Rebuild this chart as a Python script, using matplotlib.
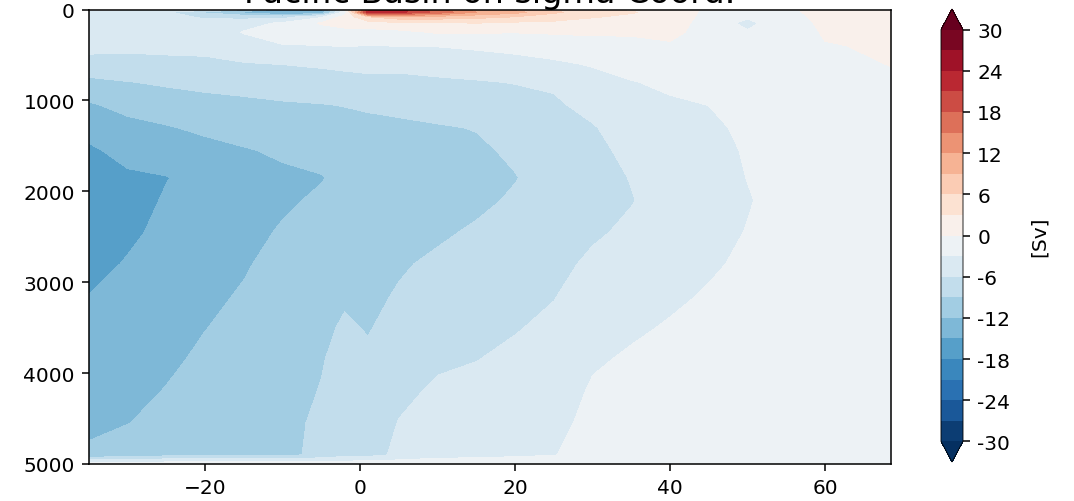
import numpy as np
import matplotlib
matplotlib.use("Agg")
import matplotlib.pyplot as plt
from matplotlib.ticker import FixedLocator, FixedFormatter

# Meridional overturning streamfunction [Sv], Pacific basin
latitude = [-35, -30, -25, -20, -15, -10, -5, -2, 1, 5, 10, 15, 20,
            25, 30, 35, 40, 45, 50, 55, 60, 68.5]
depth = [0, 30, 80, 150, 250, 400, 600, 800, 1050, 1300, 1550, 1850,
         2100, 2450, 2800, 3150, 3500, 3850, 4200, 4550, 4900, 5000]

# one profile (top to bottom, on `depth`) per latitude
psi_profiles = [
    [-2.5, -4.0, -4.5, -4.8, -5.2, -5.5, -6.6, -9.9, -12.3, -13.9, -15.5, -16.8,
     -17.0, -16.8, -16.0, -14.95, -14.4, -13.8, -13.1, -12.5, -11.6, -1.5],   # -35
    [-2.8, -4.2, -4.6, -5.0, -5.3, -5.6, -6.6, -9.1, -11.2, -12.8, -14.0, -15.5,
     -16.2, -15.6, -14.75, -14.2, -13.7, -13.1, -12.6, -12.05, -10.8, -1.2],  # -30
    [-3.5, -5.5, -5.0, -5.2, -5.4, -5.7, -6.3, -8.6, -10.5, -12.2, -13.5, -15.1,
     -14.7, -14.2, -13.7, -13.3, -12.9, -12.4, -11.9, -11.3, -10.0, -1.0],    # -25
    [-4.5, -9.5, -6.5, -5.0, -5.2, -5.6, -6.3, -8.2, -10.0, -11.5, -12.8, -14.0,
     -13.7, -13.3, -12.9, -12.45, -12.05, -11.6, -11.2, -10.7, -9.8, -1.0],   # -20
    [-9.0, -13.0, -7.0, -4.2, -2.8, -4.6, -6.15, -8.0, -9.6, -10.9, -12.2, -13.0,
     -12.9, -12.6, -12.2, -11.8, -11.4, -11.0, -10.6, -10.1, -9.7, -1.0],     # -15
    [-13.0, -16.5, -7.5, -2.5, -2.2, -3.1, -5.95, -7.6, -9.3, -10.4, -11.6, -12.5,
     -12.3, -11.8, -11.3, -10.9, -10.5, -10.1, -9.8, -9.6, -9.6, -1.0],       # -10
    [-12.0, -15.5, -3.5, 0.3, -1.5, -3.05, -5.6, -7.3, -9.1, -10.2, -11.3, -12.1,
     -11.7, -11.0, -10.4, -9.9, -9.5, -9.15, -8.9, -8.6, -8.4, -1.0],         # -5
    [0.5, -2.0, 1.0, 1.2, -1.0, -2.9, -5.3, -7.1, -8.9, -10.0, -10.9, -11.5,
     -11.1, -10.4, -9.8, -9.3, -8.7, -8.2, -7.7, -7.3, -7.1, -1.0],           # -2
    [19.0, 22.5, 6.0, 1.5, -1.0, -3.05, -5.0, -6.9, -8.6, -9.8, -10.6, -11.1,
     -10.8, -10.3, -9.9, -9.5, -9.15, -8.6, -8.0, -7.5, -7.0, -1.0],          # 1
    [22.5, 22.0, 8.0, 2.5, -0.8, -2.95, -5.4, -6.6, -8.5, -9.4, -10.1, -10.6,
     -10.3, -9.8, -9.25, -8.8, -8.2, -7.5, -6.6, -5.9, -5.4, -1.0],           # 5
    [16.0, 17.0, 8.0, 2.5, 0.3, -2.9, -4.8, -6.5, -8.0, -9.2, -9.8, -10.2,
     -10.0, -9.35, -8.6, -7.9, -7.1, -6.4, -5.6, -5.0, -4.2, -1.0],           # 10
    [11.0, 12.0, 7.0, 3.0, 0.2, -2.5, -4.6, -6.2, -7.5, -8.9, -9.4, -9.7,
     -9.5, -8.7, -8.0, -7.3, -6.6, -6.05, -5.3, -4.6, -3.9, -1.0],            # 15
    [8.0, 10.0, 6.0, 2.4, 0.1, -2.0, -4.2, -5.9, -7.0, -7.9, -8.6, -9.1,
     -8.7, -8.0, -7.4, -6.8, -6.15, -5.5, -4.8, -4.1, -3.5, -1.0],            # 20
    [5.0, 6.5, 4.5, 2.3, 0.3, -1.8, -3.4, -5.6, -6.4, -7.1, -7.6, -8.0,
     -7.9, -7.2, -6.6, -6.1, -5.5, -4.9, -4.3, -3.7, -3.1, -1.0],             # 25
    [3.5, 4.5, 3.2, 2.0, 0.5, -1.4, -2.8, -3.9, -5.2, -6.2, -6.7, -6.9,
     -7.05, -6.3, -5.6, -4.9, -4.1, -3.3, -2.7, -2.3, -1.9, -0.8],            # 30
    [2.5, 3.2, 2.5, 1.5, 0.4, -1.0, -2.2, -3.1, -4.0, -4.7, -5.3, -5.9,
     -6.1, -5.6, -4.9, -4.2, -3.35, -2.7, -2.3, -1.9, -1.6, -0.6],            # 35
    [1.5, 2.0, 1.8, 1.3, 0.8, -0.4, -1.8, -2.6, -3.3, -3.9, -4.4, -4.9,
     -5.1, -4.6, -4.0, -3.4, -2.8, -2.3, -1.9, -1.6, -1.3, -0.5],             # 40
    [-0.5, -0.8, -1.0, -1.2, -1.3, -1.5, -2.0, -2.5, -2.98, -3.4, -3.7, -4.0,
     -4.2, -3.8, -3.3, -2.8, -2.4, -2.0, -1.7, -1.4, -1.1, -0.4],             # 45
    [-0.4, -1.0, -2.6, -3.8, -2.7, -1.5, -1.7, -2.0, -2.3, -2.6, -2.8, -2.95,
     -3.15, -2.9, -2.6, -2.3, -2.0, -1.7, -1.5, -1.2, -1.0, -0.3],            # 50
    [-0.3, -0.4, -0.6, -0.9, -1.1, -1.3, -1.5, -1.6, -1.8, -1.9, -2.0, -2.1,
     -2.2, -2.0, -1.8, -1.6, -1.4, -1.2, -1.0, -0.8, -0.6, -0.2],             # 55
    [0.6, 0.6, 0.5, 0.4, 0.2, -0.1, -0.5, -0.8, -1.0, -1.2, -1.3, -1.4,
     -1.4, -1.3, -1.2, -1.1, -1.0, -0.9, -0.8, -0.7, -0.5, -0.2],             # 60
    [0.5, 0.5, 0.5, 0.45, 0.35, 0.2, 0.05, -0.3, -0.5, -0.6, -0.7, -0.8,
     -0.8, -0.8, -0.7, -0.7, -0.6, -0.6, -0.5, -0.4, -0.3, -0.1],             # 68.5
]

levels = list(range(-30, 31, 3))
cbar_ticks = [-30, -24, -18, -12, -6, 0, 6, 12, 18, 24, 30]
x_ticks = [-20, 0, 20, 40, 60]
y_ticks = [0, 1000, 2000, 3000, 4000, 5000]
title = "Pacific Basin on sigma Coord."

psi = np.array(psi_profiles).T   # shape (depth, latitude)

W, H = 1074, 502
fig = plt.figure(figsize=(W / 100, H / 100), dpi=100)
ax = fig.add_axes([89 / W, 1 - 465 / H, (891 - 89) / W, (465 - 10.5) / H])
cax = fig.add_axes([941 / W, 1 - 463 / H, 22 / W, 453 / H])

cf = ax.contourf(latitude, depth, psi, levels=levels, cmap="RdBu_r",
                 extend="both")
ax.set_xlim(-35, 68.5)
ax.set_ylim(5000, 0)
ax.set_xticks(x_ticks)
ax.set_yticks(y_ticks)
ax.tick_params(labelsize=14.5, length=5.2, width=1.1, pad=5.0)
for spine in ax.spines.values():
    spine.set_linewidth(1.1)
ax.text(0.5, 1 + (10.5 - 3) / 455, title, transform=ax.transAxes,
        ha="center", va="baseline", fontsize=24)

cb = fig.colorbar(cf, cax=cax)
cb.ax.yaxis.set_major_locator(FixedLocator(cbar_ticks))
cb.ax.yaxis.set_major_formatter(FixedFormatter([str(t) for t in cbar_ticks]))
cb.ax.tick_params(labelsize=14.5, length=5.2, width=1.1, pad=5.0)
cb.outline.set_linewidth(0.6)
cb.set_label("[Sv]", fontsize=14.5, labelpad=14)

fig.savefig("out.png", dpi=100)
